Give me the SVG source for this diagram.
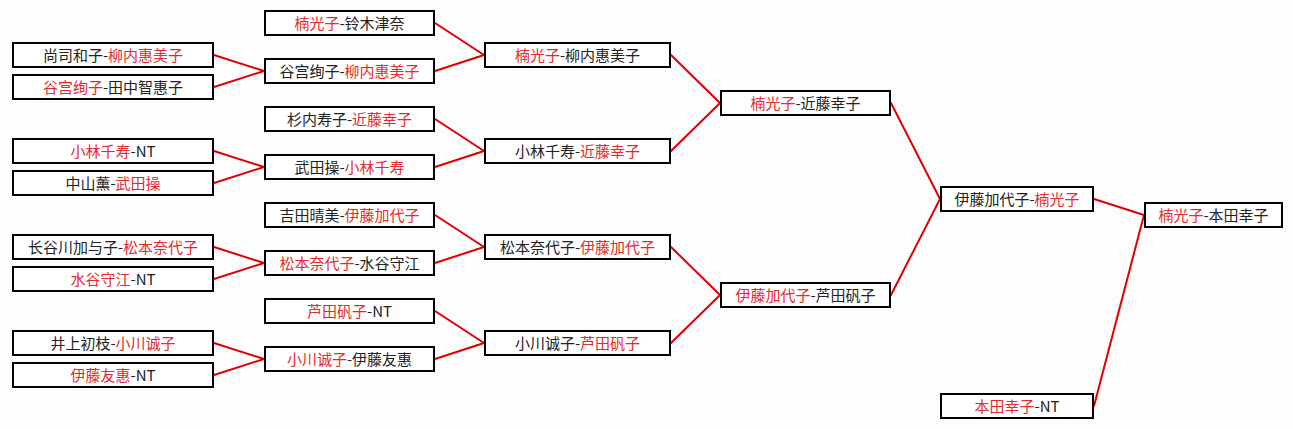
<svg xmlns="http://www.w3.org/2000/svg" width="1293" height="429" viewBox="0 0 1293 429">
<style>
.box{fill:#fff;stroke:#000;stroke-width:2}
.t{font-family:"Noto Sans CJK SC","Noto Sans",sans-serif;font-size:15px;fill:#222;text-anchor:middle}
.r{fill:#e42a2a}
.k{fill:#222}
.c line{stroke:#e00000;stroke-width:2;stroke-linecap:round}
</style>
<rect width="1293" height="429" fill="#fdfdfd"/>
<g class="c" id="connectors">
<line x1="214" y1="55" x2="264" y2="71"/><line x1="214" y1="87" x2="264" y2="71"/>
<line x1="214" y1="151" x2="264" y2="167"/><line x1="214" y1="183" x2="264" y2="167"/>
<line x1="214" y1="247" x2="264" y2="263"/><line x1="214" y1="279" x2="264" y2="263"/>
<line x1="214" y1="343" x2="264" y2="359"/><line x1="214" y1="375" x2="264" y2="359"/>
<line x1="435" y1="23" x2="484" y2="55"/><line x1="435" y1="71" x2="484" y2="55"/>
<line x1="435" y1="119" x2="484" y2="151"/><line x1="435" y1="167" x2="484" y2="151"/>
<line x1="435" y1="215" x2="484" y2="247"/><line x1="435" y1="263" x2="484" y2="247"/>
<line x1="435" y1="311" x2="484" y2="343"/><line x1="435" y1="359" x2="484" y2="343"/>
<line x1="671" y1="55" x2="720" y2="103"/><line x1="671" y1="151" x2="720" y2="103"/>
<line x1="671" y1="247" x2="720" y2="295"/><line x1="671" y1="343" x2="720" y2="295"/>
<line x1="891" y1="103" x2="940" y2="199"/><line x1="891" y1="295" x2="940" y2="199"/>
<line x1="1094" y1="199" x2="1144" y2="215"/><line x1="1094" y1="406" x2="1144" y2="215"/>
</g>
<g id="a1"><rect class="box" x="13" y="43" width="200" height="24"/><text class="t" x="113" y="60.5"><tspan class="k">尚司和子-</tspan><tspan class="r">柳内惠美子</tspan></text></g>
<g id="a2"><rect class="box" x="13" y="75" width="200" height="24"/><text class="t" x="113" y="92.5"><tspan class="r">谷宫绚子</tspan><tspan class="k">-田中智惠子</tspan></text></g>
<g id="a3"><rect class="box" x="13" y="139" width="200" height="24"/><text class="t" x="113" y="156.5"><tspan class="r">小林千寿</tspan><tspan class="k">-NT</tspan></text></g>
<g id="a4"><rect class="box" x="13" y="171" width="200" height="24"/><text class="t" x="113" y="188.5"><tspan class="k">中山薰-</tspan><tspan class="r">武田操</tspan></text></g>
<g id="a5"><rect class="box" x="13" y="235" width="200" height="24"/><text class="t" x="113" y="252.5"><tspan class="k">长谷川加与子-</tspan><tspan class="r">松本奈代子</tspan></text></g>
<g id="a6"><rect class="box" x="13" y="267" width="200" height="24"/><text class="t" x="113" y="284.5"><tspan class="r">水谷守江</tspan><tspan class="k">-NT</tspan></text></g>
<g id="a7"><rect class="box" x="13" y="331" width="200" height="24"/><text class="t" x="113" y="348.5"><tspan class="k">井上初枝-</tspan><tspan class="r">小川诚子</tspan></text></g>
<g id="a8"><rect class="box" x="13" y="363" width="200" height="24"/><text class="t" x="113" y="380.5"><tspan class="r">伊藤友惠</tspan><tspan class="k">-NT</tspan></text></g>
<g id="b1"><rect class="box" x="265" y="11" width="169" height="24"/><text class="t" x="349.5" y="28.5"><tspan class="r">楠光子</tspan><tspan class="k">-铃木津奈</tspan></text></g>
<g id="b2"><rect class="box" x="265" y="59" width="169" height="24"/><text class="t" x="349.5" y="76.5"><tspan class="k">谷宫绚子-</tspan><tspan class="r">柳内惠美子</tspan></text></g>
<g id="b3"><rect class="box" x="265" y="107" width="169" height="24"/><text class="t" x="349.5" y="124.5"><tspan class="k">杉内寿子-</tspan><tspan class="r">近藤幸子</tspan></text></g>
<g id="b4"><rect class="box" x="265" y="155" width="169" height="24"/><text class="t" x="349.5" y="172.5"><tspan class="k">武田操-</tspan><tspan class="r">小林千寿</tspan></text></g>
<g id="b5"><rect class="box" x="265" y="203" width="169" height="24"/><text class="t" x="349.5" y="220.5"><tspan class="k">吉田晴美-</tspan><tspan class="r">伊藤加代子</tspan></text></g>
<g id="b6"><rect class="box" x="265" y="251" width="169" height="24"/><text class="t" x="349.5" y="268.5"><tspan class="r">松本奈代子</tspan><tspan class="k">-水谷守江</tspan></text></g>
<g id="b7"><rect class="box" x="265" y="299" width="169" height="24"/><text class="t" x="349.5" y="316.5"><tspan class="r">芦田矾子</tspan><tspan class="k">-NT</tspan></text></g>
<g id="b8"><rect class="box" x="265" y="347" width="169" height="24"/><text class="t" x="349.5" y="364.5"><tspan class="r">小川诚子</tspan><tspan class="k">-伊藤友惠</tspan></text></g>
<g id="c1"><rect class="box" x="485" y="43" width="185" height="24"/><text class="t" x="577.5" y="60.5"><tspan class="r">楠光子</tspan><tspan class="k">-柳内惠美子</tspan></text></g>
<g id="c2"><rect class="box" x="485" y="139" width="185" height="24"/><text class="t" x="577.5" y="156.5"><tspan class="k">小林千寿-</tspan><tspan class="r">近藤幸子</tspan></text></g>
<g id="c3"><rect class="box" x="485" y="235" width="185" height="24"/><text class="t" x="577.5" y="252.5"><tspan class="k">松本奈代子-</tspan><tspan class="r">伊藤加代子</tspan></text></g>
<g id="c4"><rect class="box" x="485" y="331" width="185" height="24"/><text class="t" x="577.5" y="348.5"><tspan class="k">小川诚子-</tspan><tspan class="r">芦田矾子</tspan></text></g>
<g id="d1"><rect class="box" x="721" y="91" width="169" height="24"/><text class="t" x="805.5" y="108.5"><tspan class="r">楠光子</tspan><tspan class="k">-近藤幸子</tspan></text></g>
<g id="d2"><rect class="box" x="721" y="283" width="169" height="24"/><text class="t" x="805.5" y="300.5"><tspan class="r">伊藤加代子</tspan><tspan class="k">-芦田矾子</tspan></text></g>
<g id="e1"><rect class="box" x="941" y="187" width="152" height="24"/><text class="t" x="1017" y="204.5"><tspan class="k">伊藤加代子-</tspan><tspan class="r">楠光子</tspan></text></g>
<g id="e2"><rect class="box" x="941" y="394" width="152" height="24"/><text class="t" x="1017" y="411.5"><tspan class="r">本田幸子</tspan><tspan class="k">-NT</tspan></text></g>
<g id="f1"><rect class="box" x="1145" y="203" width="137" height="24"/><text class="t" x="1213.5" y="220.5"><tspan class="r">楠光子</tspan><tspan class="k">-本田幸子</tspan></text></g>
</svg>
